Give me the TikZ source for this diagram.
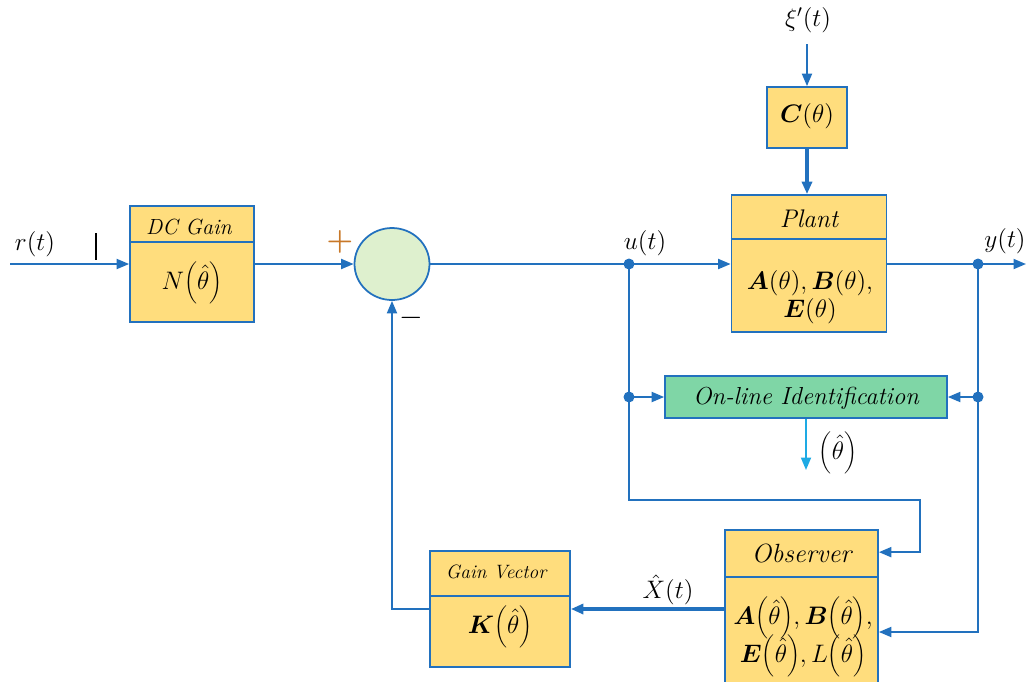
\documentclass[tikz,border=0pt]{standalone}
\usepackage{bm}
\usetikzlibrary{arrows.meta,shapes.geometric}

\definecolor{wireblue}{RGB}{34,113,190}
\definecolor{boxgold}{RGB}{255,221,125}
\definecolor{idgreen}{RGB}{127,214,166}
\definecolor{sumgreen}{RGB}{222,240,206}
\definecolor{estcyan}{RGB}{30,170,228}
\definecolor{signorange}{RGB}{200,120,40}

\tikzset{
  wire/.style={draw=wireblue, line width=1.1pt},
  sig/.style={wire, -{Triangle[length=0.25cm,width=0.2cm]}},
  heavysig/.style={sig, line width=2.6pt},
  blockbox/.style={draw=wireblue, fill=boxgold, line width=1pt, inner sep=0pt},
  headtext/.style={font=\fontsize{14.5}{16}\selectfont\itshape, inner sep=0pt},
  mathtext/.style={font=\fontsize{14}{20}\selectfont, align=center, inner sep=0pt},
}
\def\dot#1{\fill[wireblue] (#1) circle (0.11cm)}
\def\th{{\left(\hat{\theta}\right)}}

\begin{document}
\begin{tikzpicture}[x=0.02cm, y=-0.02cm]
  \useasboundingbox (0,0) rectangle (1032,681);

  % blocks
  \node[blockbox, minimum width=2.48cm, minimum height=2.32cm] (dc) at (192,264) {};
  \node[draw=wireblue, fill=sumgreen, line width=1pt, ellipse,
        minimum width=1.5cm, minimum height=1.44cm] (sum) at (392,264) {};
  \node[blockbox, minimum width=3.1cm, minimum height=2.74cm] (plant) at (809,263.5) {};
  \node[blockbox, minimum width=1.6cm, minimum height=1.22cm] (cbox) at (807,117.5) {};
  \node[blockbox, fill=idgreen, minimum width=5.64cm, minimum height=0.84cm] (ident) at (806,397) {};
  \node[blockbox, minimum width=3.06cm, minimum height=3.16cm] (obs) at (801.5,609) {};
  \node[blockbox, minimum width=2.8cm, minimum height=2.32cm] (gain) at (500,609) {};

  % header lines
  \draw[wire, line width=1pt] ([yshift=-0.74cm]dc.north west) -- ([yshift=-0.74cm]dc.north east);
  \draw[wire, line width=1pt] ([yshift=-0.9cm]plant.north west) -- ([yshift=-0.9cm]plant.north east);
  \draw[wire, line width=1pt] ([yshift=-0.96cm]obs.north west) -- ([yshift=-0.96cm]obs.north east);
  \draw[wire, line width=1pt] ([yshift=-0.92cm]gain.north west) -- ([yshift=-0.92cm]gain.north east);

  % block texts
  \node[headtext, font=\fontsize{12.5}{13}\selectfont\itshape] (dctitle) at (189,227) {DC Gain};
  \node[mathtext] (dcbody) at (192,283) {$N\th$};
  \node[headtext] (planttitle) at (809,219) {Plant};
  \node[mathtext] (plantbody) at (810,297) {$\bm{A}(\theta),\bm{B}(\theta),$\\[-4pt]$\bm{E}(\theta)$};
  \node[mathtext] (cbody) at (807,116) {$\bm{C}(\theta)$};
  \node[headtext, font=\fontsize{14}{15}\selectfont\itshape] (identtext) at (806,398) {On-line Identification};
  \node[headtext, font=\fontsize{15}{16}\selectfont\itshape] (obstitle) at (801.5,553) {Observer};
  \node[mathtext] (obsbody) at (803,637) {$\bm{A}\th,\bm{B}\th,$\\[-3pt]$\bm{E}\th,L\th$};
  \node[headtext, font=\fontsize{11}{12}\selectfont\itshape] (gaintitle) at (496,572) {Gain Vector};
  \node[mathtext] (gainbody) at (500,627) {$\bm{K}\th$};

  % free ends and junctions
  \coordinate (rin) at (10,264);
  \coordinate (yout) at (1026,264);
  \coordinate (xiin) at (807,44);
  \coordinate (u) at (629,264);
  \coordinate (ydot) at (978,264);
  \coordinate (uturn) at (920,500);
  \coordinate (thout) at (806,470);

  % forward path
  \draw[sig] (rin) -- (dc.west);
  \draw[black, line width=1.6pt] (96,233) -- (96,260);
  \draw[sig] (dc.east) -- (sum.west);
  \draw[sig] (sum.east) -- (plant.west |- sum.east);
  \draw[sig] (plant.east |- u) -- (yout);
  \draw[sig] (xiin) -- (cbox.north);
  \draw[heavysig] (cbox.south) -- (plant.north -| cbox.south);

  % identification and observer feeds
  \draw[sig] (u) |- (uturn) |- ([yshift=-0.46cm]obs.north east);
  \draw[sig] (u |- ident.west) -- (ident.west);
  \draw[sig] (ydot) |- ([yshift=-0.46cm]obs.east);
  \draw[sig] (ydot |- ident.east) -- (ident.east);
  \draw[line width=1.1pt, draw=estcyan, -{Triangle[length=0.25cm,width=0.2cm]}] (ident.south) -- (thout);

  % state feedback
  \draw[heavysig] (obs.west) -- (gain.east);
  \draw[sig] (gain.west) -| (sum.south);

  \dot{u}; \dot{ydot}; \dot{u |- ident.west}; \dot{ydot |- ident.east};

  % signal labels
  \node[mathtext] (rlabel) at (35,244) {$r(t)$};
  \node[mathtext] (ulabel) at (645,243) {$u(t)$};
  \node[mathtext] (ylabel) at (1005,241) {$y(t)$};
  \node[mathtext] (xilabel) at (808,20) {$\xi'(t)$};
  \node[mathtext] (xhatlabel) at (668,590) {$\hat{X}(t)$};
  \node[mathtext] (thlabel) at (838,453) {$\th$};
  \node[font=\fontsize{18}{18}\selectfont, text=signorange, inner sep=0pt] (plus) at (340,242) {$\bm{+}$};
  \node[font=\fontsize{18}{18}\selectfont, inner sep=0pt] (minus) at (411,318) {$-$};
\end{tikzpicture}
\end{document}
